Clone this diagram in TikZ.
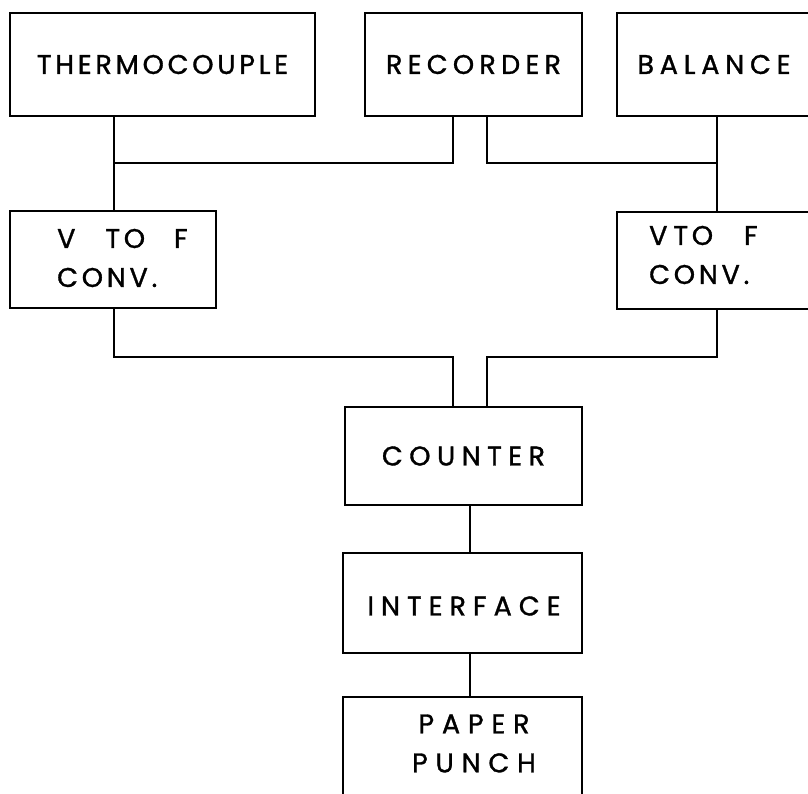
\documentclass[tikz,border=0pt]{standalone}
\usepackage{fontspec}
\newfontfamily\labfont{Poppins}[LetterSpace=14,FakeBold=1.2]
\newcommand\lsp[1]{\addfontfeature{LetterSpace=#1}}
\begin{document}
\begin{tikzpicture}[x=1pt,y=-1pt,
  box/.style={draw,line width=1.8pt,rectangle,inner sep=0pt,outer sep=0pt},
  lab/.style={inner sep=0pt,font=\labfont\fontsize{27}{39}\selectfont,align=center},
  wire/.style={line width=1.8pt,line join=miter,line cap=rect}]
\clip (0,0) rectangle (808,794);
\fill[white] (0,0) rectangle (808,794);
% boxes
\node[box,lab,minimum width=305,minimum height=103] (thermo) at (162.5,64.5) {THERMOCOUPLE};
\node[box,lab,minimum width=217,minimum height=103] (rec) at (473.5,64.5) {\lsp{19.5}RECORDER};
\node[box,lab,minimum width=194,minimum height=103] (bal) at (714,64.5) {\lsp{21.5}BALANCE};
\node[box,minimum width=206,minimum height=97] (vtofL) at (113,259.5) {};
\node[box,minimum width=206,minimum height=97] (vtofR) at (720,260.5) {};
\node[box,lab,minimum width=237,minimum height=98] (counter) at (463.5,456) {\lsp{24}COUNTER};
\node[box,minimum width=239,minimum height=100] (iface) at (462.5,603) {};
\node[box,minimum width=239,minimum height=123] (punch) at (462.5,758.5) {};
% texts of the cut or offset boxes
\node[lab] (ifaceT) at (464,606) {\lsp{26}INTERFACE};
\node[lab,anchor=west,align=left] (vtofLt) at (57,258) {V\hspace{30pt}TO\hspace{29pt}F\\CONV.};
\node[lab,anchor=west,align=left] (vtofRt) at (649,255) {V\hspace{6pt}TO\hspace{31pt}F\\CONV.};
\node[lab] (punchT) at (474,743.5) {\lsp{29}PAPER\\\lsp{29}PUNCH};
% junction points
\coordinate (j1) at (114,163);
\coordinate (ra) at (453,163);
\coordinate (rb) at (487,163);
\coordinate (j2) at (717,163);
\coordinate (j3) at (114,357);
\coordinate (ca) at (453,357);
\coordinate (cb) at (487,357);
\coordinate (j4) at (717,357);
\coordinate (k) at (470,0);
% connectors
\draw[wire] (thermo.south -| j1) -- (vtofL.north -| j1);
\draw[wire] (rec.south -| ra) -- (ra) -- (j1);
\draw[wire] (rec.south -| rb) -- (rb) -- (j2);
\draw[wire] (bal.south -| j2) -- (vtofR.north -| j2);
\draw[wire] (vtofL.south -| j3) -- (j3) -- (ca) -- (counter.north -| ca);
\draw[wire] (vtofR.south -| j4) -- (j4) -- (cb) -- (counter.north -| cb);
\draw[wire] (counter.south -| k) -- (iface.north -| k);
\draw[wire] (iface.south -| k) -- (punch.north -| k);
\end{tikzpicture}
\end{document}
